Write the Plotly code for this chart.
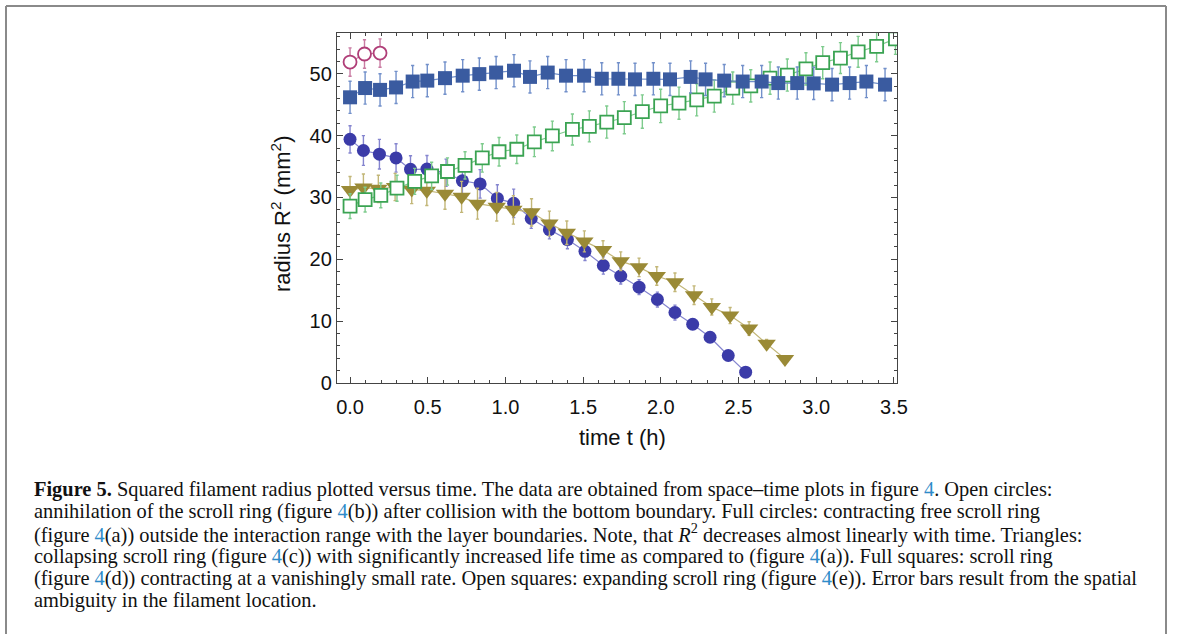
import plotly.graph_objects as go

# ---------------- data ----------------
t_open_circ = [0.0, 0.093, 0.193]
r2_open_circ = [51.9, 53.2, 53.35]
e_open_circ = [2.3, 2.3, 2.3]

t_full_sq = [0.0, 0.097, 0.193, 0.296, 0.403, 0.497, 0.611, 0.725, 0.832, 0.940, 1.055, 1.158,
             1.272, 1.390, 1.506, 1.620, 1.727, 1.834, 1.952, 2.059, 2.192, 2.288, 2.408, 2.527,
             2.649, 2.756, 2.878, 2.984, 3.102, 3.215, 3.323, 3.443]
r2_full_sq = [46.2, 47.7, 47.4, 47.8, 48.75, 48.9, 49.3, 49.7, 49.95, 50.2, 50.5, 49.5,
              50.2, 49.7, 49.7, 49.2, 49.2, 49.1, 49.2, 49.1, 49.5, 49.1, 48.9, 48.75,
              48.75, 48.5, 48.5, 48.45, 48.25, 48.5, 48.75, 48.25]
e_full_sq = [2.6, 2.6, 2.6, 2.6, 2.6, 2.6, 2.6, 2.6, 2.6, 2.6, 2.6, 2.6,
             2.6, 2.6, 2.6, 2.6, 2.6, 2.6, 2.6, 2.6, 2.6, 2.6, 2.6, 2.6,
             2.6, 2.6, 2.6, 2.6, 2.6, 2.6, 2.6, 2.6]

t_full_circ = [0.0, 0.086, 0.189, 0.296, 0.389, 0.495, 0.618, 0.723, 0.837, 0.948, 1.053, 1.166,
               1.283, 1.399, 1.512, 1.630, 1.742, 1.860, 1.978, 2.091, 2.205, 2.317, 2.434, 2.546]
r2_full_circ = [39.4, 37.6, 37.0, 36.4, 34.55, 34.6, 34.0, 32.7, 32.2, 29.85, 29.05, 26.6,
                24.8, 23.2, 21.3, 19.0, 17.3, 15.5, 13.5, 11.4, 9.5, 7.4, 4.45, 1.75]
e_full_circ = [2.2, 2.4, 2.4, 2.3, 2.2, 2.2, 2.2, 2.3, 2.3, 2.2, 2.3, 1.6,
               1.5, 1.5, 1.5, 1.4, 1.3, 1.2, 1.2, 1.2, 0.8, 0.5, 0.4, 0.3]

t_tri = [0.0, 0.086, 0.182, 0.290, 0.397, 0.494, 0.611, 0.718, 0.820, 0.944, 1.051, 1.168,
         1.283, 1.395, 1.508, 1.628, 1.742, 1.860, 1.974, 2.091, 2.214, 2.328, 2.446, 2.568,
         2.681, 2.799]
r2_tri = [31.2, 31.6, 31.4, 31.7, 31.3, 31.1, 30.6, 30.1, 29.0, 28.5, 28.0, 27.6,
          25.8, 24.3, 22.9, 21.5, 19.7, 18.7, 17.3, 16.3, 14.2, 12.3, 10.9, 8.8,
          6.35, 3.9]
e_tri = [2.2, 2.2, 2.2, 2.2, 2.3, 2.4, 2.5, 2.5, 2.5, 2.3, 2.3, 2.2,
         2.0, 1.9, 1.7, 1.5, 1.5, 1.5, 1.5, 1.5, 1.5, 1.3, 1.3, 1.1,
         0.7, 0.5]

t_open_sq = [0.0, 0.097, 0.198, 0.302, 0.416, 0.525, 0.627, 0.740, 0.851, 0.959, 1.073, 1.186,
             1.302, 1.431, 1.540, 1.652, 1.765, 1.881, 1.999, 2.117, 2.231, 2.344, 2.463, 2.579,
             2.703, 2.814, 2.934, 3.042, 3.156, 3.270, 3.389, 3.510]
r2_open_sq = [28.6, 29.65, 30.35, 31.5, 32.6, 33.5, 34.2, 35.2, 36.4, 37.4, 37.8, 39.0,
              39.95, 41.0, 41.5, 42.2, 42.9, 43.9, 44.8, 45.25, 45.8, 46.4, 47.7, 48.05,
              49.3, 49.8, 50.8, 51.8, 52.55, 53.55, 54.45, 55.65]
e_open_sq = [2.0, 2.0, 2.0, 2.1, 2.1, 2.2, 2.2, 2.2, 2.3, 2.3, 2.3, 2.4,
             2.4, 2.5, 2.5, 2.6, 2.6, 2.7, 2.7, 2.6, 2.6, 2.6, 2.6, 2.6,
             2.6, 2.6, 2.6, 2.6, 2.5, 2.5, 2.5, 2.5]

x_tickvals = [0.0, 0.5, 1.0, 1.5, 2.0, 2.5, 3.0, 3.5]
x_ticktext = ["0.0", "0.5", "1.0", "1.5", "2.0", "2.5", "3.0", "3.5"]
y_tickvals = [0, 10, 20, 30, 40, 50]
y_ticktext = ["0", "10", "20", "30", "40", "50"]

caption_lines = [
    '<b>Figure 5.</b> Squared filament radius plotted versus time. The data are obtained from space–time plots in figure <span style="color:#2E8BC9">4</span>. Open circles:',
    'annihilation of the scroll ring (figure <span style="color:#2E8BC9">4</span>(b)) after collision with the bottom boundary. Full circles: contracting free scroll ring',
    '(figure <span style="color:#2E8BC9">4</span>(a)) outside the interaction range with the layer boundaries. Note, that <i>R</i><sup>2</sup> decreases almost linearly with time. Triangles:',
    'collapsing scroll ring (figure <span style="color:#2E8BC9">4</span>(c)) with significantly increased life time as compared to (figure <span style="color:#2E8BC9">4</span>(a)). Full squares: scroll ring',
    '(figure <span style="color:#2E8BC9">4</span>(d)) contracting at a vanishingly small rate. Open squares: expanding scroll ring (figure <span style="color:#2E8BC9">4</span>(e)). Error bars result from the spatial',
    'ambiguity in the filament location.',
]

# ---------------- layout geometry ----------------
W, H = 1179, 634
L, R, T, B = 337, 897, 33, 383  # plot area in pixels
PW, PH = R - L, B - T


def px(x):
    return (x - L) / PW


def py(y):
    return (B - y) / PH


fig = go.Figure()


def add_series(t, v, e, symbol, size, mcolor, fill, lcolor, lw=1.8):
    fig.add_trace(go.Scatter(
        x=t, y=v, mode="lines+markers",
        line=dict(color=lcolor, width=1.2),
        marker=dict(symbol=symbol, size=size,
                    color=(mcolor if fill else "white"),
                    line=dict(color=mcolor, width=(0 if fill else lw))),
        error_y=dict(type="data", array=e, visible=True, color=lcolor,
                     thickness=1.4, width=1.6),
        showlegend=False,
    ))


add_series(t_full_circ, r2_full_circ, e_full_circ, "circle", 13, "#3B3BA8", True, "#8585CF")
add_series(t_tri, r2_tri, e_tri, "triangle-down", 16, "#9A8A36", True, "#C2B677")
add_series(t_open_sq, r2_open_sq, e_open_sq, "square", 13, "#3AA352", False, "#7ECB8D")
add_series(t_full_sq, r2_full_sq, e_full_sq, "square", 14, "#3A5BA0", True, "#7290CA")
add_series(t_open_circ, r2_open_circ, e_open_circ, "circle", 13, "#B03E78", False, "#C97BA2")

axis_font = dict(family="Liberation Sans, Arial, sans-serif", size=20, color="#111")
title_font = dict(family="Liberation Sans, Arial, sans-serif", size=22, color="#111")

fig.update_layout(
    width=W, height=H,
    margin=dict(l=L, r=W - R, t=T, b=H - B, pad=0),
    paper_bgcolor="white", plot_bgcolor="white",
    xaxis=dict(range=[-0.084, 3.52], tickvals=x_tickvals, ticktext=x_ticktext,
               ticks="inside", ticklen=6, tickwidth=1, tickcolor="#444",
               minor=dict(ticks="inside", ticklen=3, dtick=0.1, tick0=0, tickcolor="#444"),
               showline=True, linecolor="#444", linewidth=1.3, mirror="ticks",
               showgrid=False, zeroline=False, tickfont=axis_font, ticklabelstandoff=6),
    yaxis=dict(range=[0, 56.6], tickvals=y_tickvals, ticktext=y_ticktext,
               ticks="inside", ticklen=6, tickwidth=1, tickcolor="#444",
               minor=dict(ticks="inside", ticklen=3, dtick=2, tick0=0, tickcolor="#444"),
               showline=True, linecolor="#444", linewidth=1.3, mirror="ticks",
               showgrid=False, zeroline=False, tickfont=axis_font),
)

annotations = [
    dict(x=px(622), y=py(437), xref="paper", yref="paper", showarrow=False,
         text="time t (h)", font=title_font, xanchor="center", yanchor="middle"),
    dict(x=px(281), y=py(214), xref="paper", yref="paper", showarrow=False,
         text="radius\u00a0R<sup>2</sup>\u00a0(mm<sup>2</sup>)", font=title_font, textangle=-90,
         xanchor="center", yanchor="middle"),
]
cap_y = [489, 511, 533, 556, 578, 600]
for txt, yy in zip(caption_lines, cap_y):
    annotations.append(dict(x=px(32), y=py(yy), xref="paper", yref="paper", showarrow=False,
                            text=txt, xanchor="left", yanchor="middle", align="left",
                            font=dict(family="Liberation Serif, Times New Roman, serif",
                                      size=20.4, color="#111")))
fig.update_layout(annotations=annotations)

# figure border (top, left, right)
border = dict(color="#8a8a8a", width=2)
fig.add_shape(type="line", xref="paper", yref="paper", x0=px(6), x1=px(1166), y0=py(6), y1=py(6), line=border)
fig.add_shape(type="line", xref="paper", yref="paper", x0=px(6), x1=px(6), y0=py(6), y1=py(640), line=border)
fig.add_shape(type="line", xref="paper", yref="paper", x0=px(1166), x1=px(1166), y0=py(6), y1=py(640), line=border)

fig.write_html("out.html")
